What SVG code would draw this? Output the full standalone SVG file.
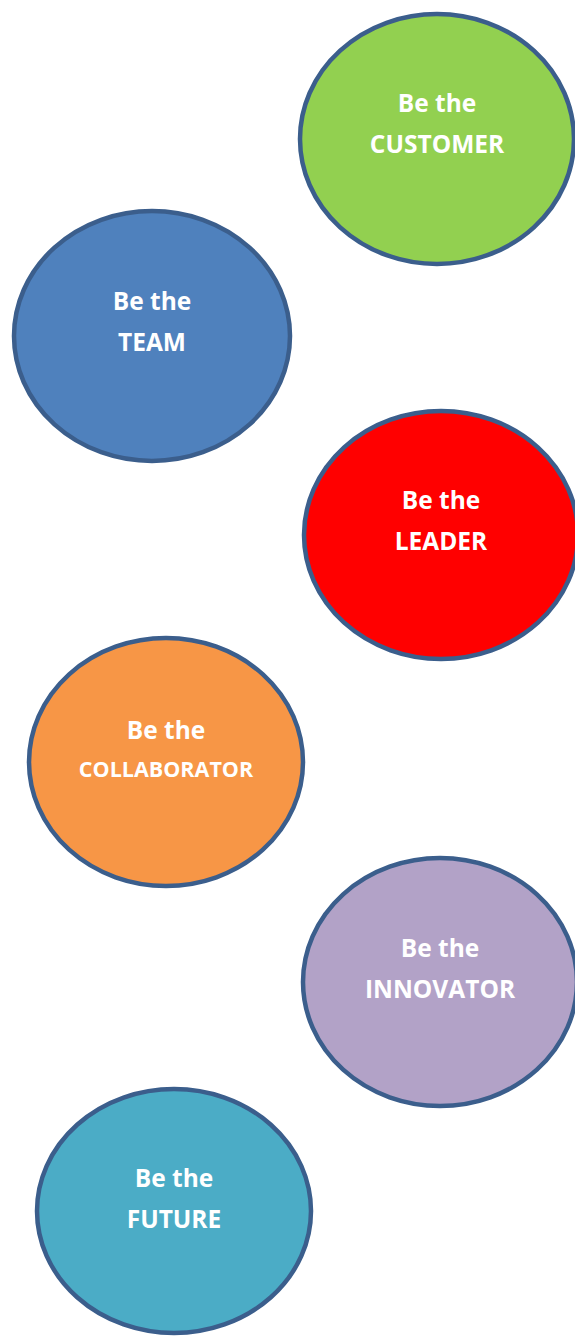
<svg xmlns="http://www.w3.org/2000/svg" width="575" height="1336" viewBox="0 0 575 1336">
<style>
.n{stroke:#3B5E8C;stroke-width:4.5}
.t{fill:#FFFFFF;font-family:"Open Sans","Liberation Sans",sans-serif;font-weight:bold;font-size:24.5px;text-anchor:middle}
.s{font-size:21.5px}
</style>
<rect width="575" height="1336" fill="#FFFFFF"/>
<g id="connectors"/>
<g id="customer">
<ellipse class="n" cx="437" cy="139" rx="137" ry="125" fill="#92D050"/>
<text class="t" x="437" y="112">Be the</text>
<text class="t" x="437" y="153">CUSTOMER</text>
</g>
<g id="team">
<ellipse class="n" cx="152" cy="336" rx="138" ry="125" fill="#4F81BD"/>
<text class="t" x="152" y="310">Be the</text>
<text class="t" x="152" y="351">TEAM</text>
</g>
<g id="leader">
<ellipse class="n" cx="441" cy="535" rx="137" ry="124" fill="#FF0000"/>
<text class="t" x="441" y="509">Be the</text>
<text class="t" x="441" y="550">LEADER</text>
</g>
<g id="collaborator">
<ellipse class="n" cx="166" cy="762" rx="137" ry="124" fill="#F79646"/>
<text class="t" x="166" y="739">Be the</text>
<text class="t s" x="166" y="777">COLLABORATOR</text>
</g>
<g id="innovator">
<ellipse class="n" cx="440" cy="982" rx="137" ry="124" fill="#B2A2C7"/>
<text class="t" x="440" y="957">Be the</text>
<text class="t" x="440" y="998">INNOVATOR</text>
</g>
<g id="future">
<ellipse class="n" cx="174" cy="1211" rx="137" ry="122" fill="#4BACC6"/>
<text class="t" x="174" y="1187">Be the</text>
<text class="t" x="174" y="1228">FUTURE</text>
</g>
</svg>
